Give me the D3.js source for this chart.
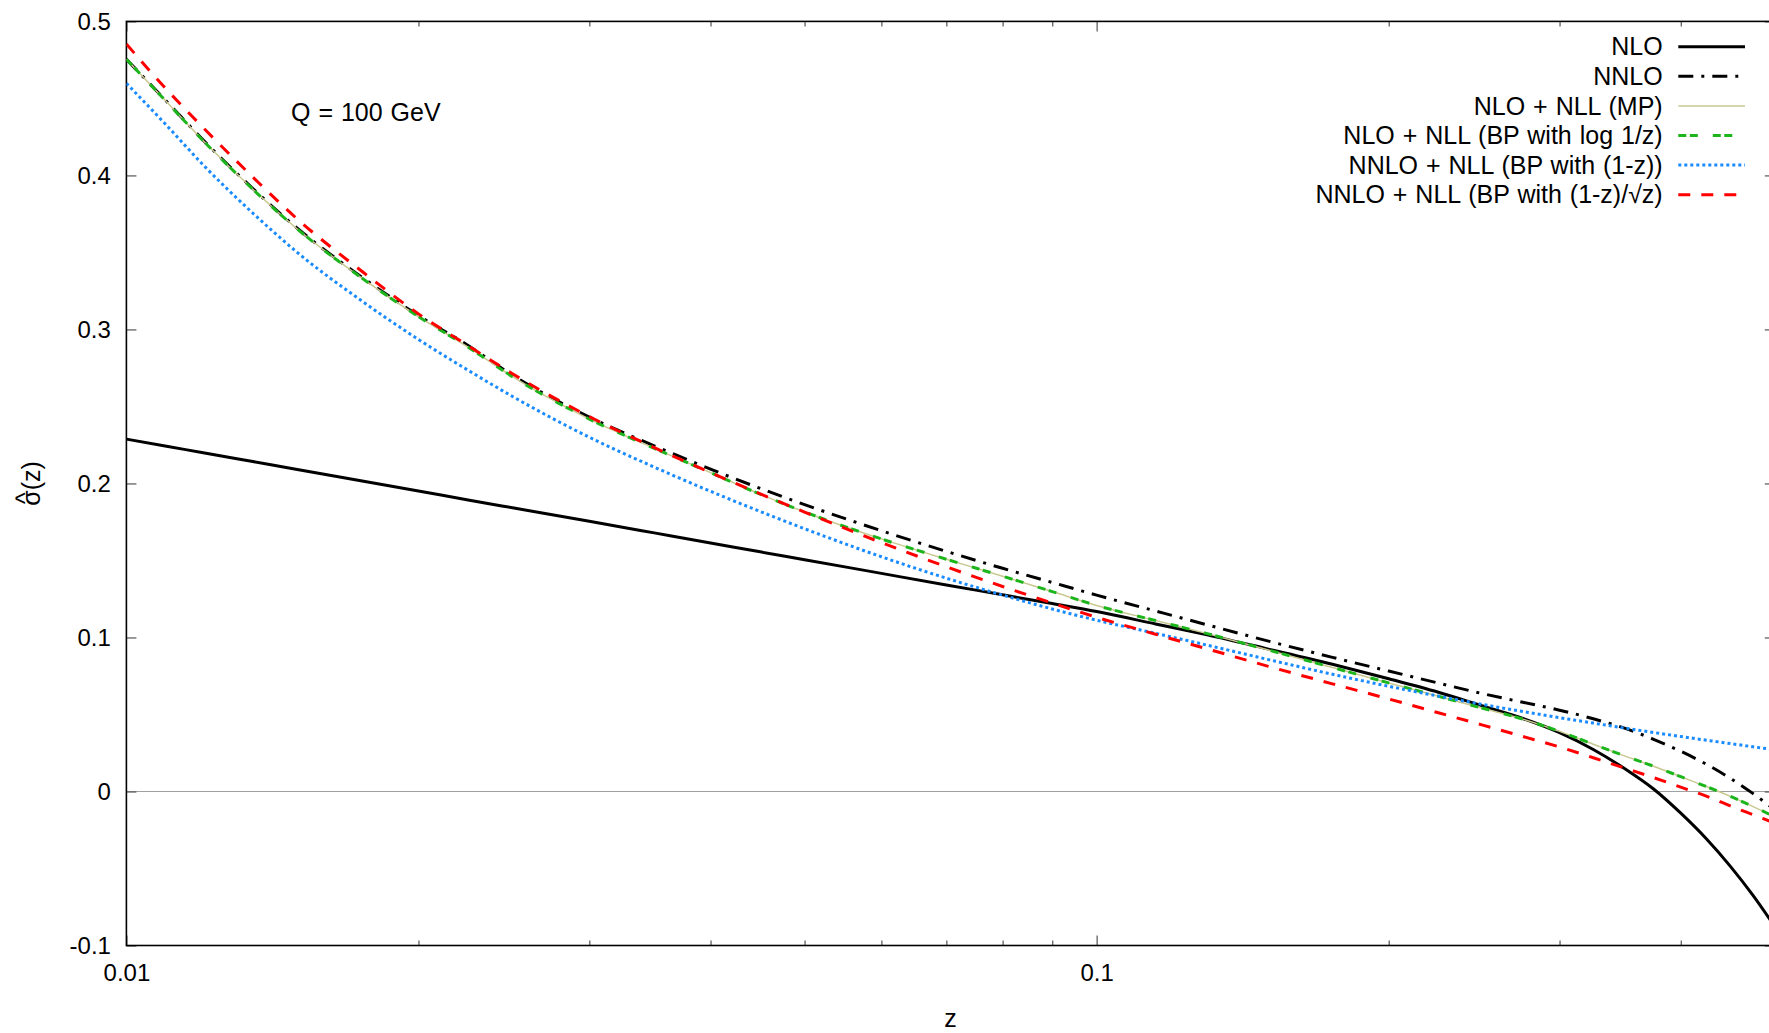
<!DOCTYPE html>
<html><head><meta charset="utf-8">
<script src="https://cdn.jsdelivr.net/npm/d3@7"></script>
<style>
html,body{margin:0;padding:0;background:#fff;overflow:hidden}
svg{display:block;font-family:"Liberation Sans",Arial,Helvetica,sans-serif}
</style></head><body>
<svg id="chart" width="1769" height="1033"></svg>
<script>
// ---- data ----
const zValues = [0.01,0.011,0.012,0.0135,0.015,0.0175,0.02,0.0225,0.025,0.03,0.035,0.04,0.045,0.05,0.06,0.07,0.08,0.09,0.1,0.115,0.13,0.15,0.175,0.2,0.225,0.25,0.275,0.3,0.325,0.35,0.375,0.4,0.425,0.45,0.475,0.5];
const nloValues = [0.2288,0.2242,0.2199,0.2142,0.2091,0.2016,0.1951,0.1893,0.1842,0.1754,0.1679,0.1614,0.1556,0.1505,0.1416,0.1341,0.1277,0.1220,0.1168,0.1088,0.1017,0.0926,0.0826,0.0732,0.0644,0.0555,0.0474,0.0382,0.0273,0.0149,0.0016,-0.0141,-0.0307,-0.0486,-0.0676,-0.0877];
const nnloValues = [0.4754,0.4481,0.4229,0.3915,0.3657,0.3338,0.3090,0.2896,0.2703,0.2431,0.2244,0.2093,0.1968,0.1863,0.1693,0.1559,0.1449,0.1357,0.1275,0.1172,0.1082,0.0978,0.0871,0.0782,0.0704,0.0635,0.0579,0.0528,0.0472,0.0411,0.0339,0.0261,0.0177,0.0085,-0.0014,-0.0119];
const nloNllMpValues = [0.4754,0.4478,0.4225,0.3910,0.3652,0.3332,0.3083,0.2885,0.2693,0.2418,0.2228,0.2070,0.1930,0.1815,0.1640,0.1508,0.1398,0.1298,0.1208,0.1110,0.1025,0.0920,0.0805,0.0705,0.0618,0.0540,0.0470,0.0390,0.0307,0.0231,0.0164,0.0096,0.0032,-0.0032,-0.0098,-0.0165];
const nloNllBpLogValues = [0.4754,0.4478,0.4225,0.3910,0.3652,0.3332,0.3083,0.2885,0.2693,0.2418,0.2228,0.2070,0.1930,0.1815,0.1640,0.1508,0.1398,0.1298,0.1208,0.1110,0.1025,0.0920,0.0805,0.0705,0.0618,0.0540,0.0470,0.0390,0.0307,0.0231,0.0164,0.0096,0.0032,-0.0032,-0.0098,-0.0165];
const nnloNllBp1zValues = [0.4598,0.4325,0.4068,0.3755,0.3500,0.3183,0.2935,0.2735,0.2565,0.2300,0.2106,0.1949,0.1818,0.1706,0.1524,0.1385,0.1275,0.1185,0.1112,0.1027,0.0950,0.0858,0.0761,0.0683,0.0619,0.0565,0.0519,0.0479,0.0444,0.0412,0.0383,0.0357,0.0333,0.0311,0.0290,0.0271];
const nnloNllBpSqrtValues = [0.4853,0.4558,0.4310,0.3989,0.3717,0.3376,0.3101,0.2895,0.2712,0.2434,0.2233,0.2071,0.1933,0.1814,0.1616,0.1459,0.1331,0.1223,0.1131,0.1021,0.0926,0.0814,0.0699,0.0601,0.0511,0.0431,0.0357,0.0289,0.0219,0.0152,0.0090,0.0028,-0.0030,-0.0094,-0.0151,-0.0205];

const seriesNames = ["NLO","NNLO","NLO + NLL (MP)","NLO + NLL (BP with log 1/z)","NNLO + NLL (BP with (1-z))","NNLO + NLL (BP with (1-z)/\u221Az)"];
const xMajorTicks = [0.01, 0.1];
const xTickLabels = ["0.01", "0.1"];
const xMinorTicks = [0.02,0.03,0.04,0.05,0.06,0.07,0.08,0.09,0.2,0.3,0.4,0.5];
const yTicks = [-0.1,0,0.1,0.2,0.3,0.4,0.5];
const yTickLabels = ["-0.1","0","0.1","0.2","0.3","0.4","0.5"];

// ---- layout ----
const W = 1769, H = 1033;
const m = {left:126.4, right:1774.8, top:21.4, bottom:945.5};
const FS = 24;      // tick labels
const FSL = 25;     // legend / annotation / axis titles
const WS = "1px";
const svg = d3.select("#chart");
const x = d3.scaleLog().domain([0.01,0.5]).range([m.left,m.right]);
const y = d3.scaleLinear().domain([-0.1,0.5]).range([m.bottom,m.top]);

svg.append("rect").attr("width",W).attr("height",H).attr("fill","#fff");

svg.append("defs").append("clipPath").attr("id","plotclip")
  .append("rect").attr("x",m.left).attr("y",m.top).attr("width",m.right-m.left).attr("height",m.bottom-m.top);

// zero line
svg.append("line").attr("x1",m.left).attr("x2",m.right).attr("y1",y(0)).attr("y2",y(0))
  .attr("stroke","#a0a0a0").attr("stroke-width",1.2);

// axes
function styleAxis(g){
  g.select(".domain").remove();
  g.selectAll(".tick line").attr("stroke","#555").attr("stroke-width",1.2);
  g.selectAll("text").attr("font-size",FS).attr("fill","#000")
    .attr("font-family","\"Liberation Sans\",Arial,Helvetica,sans-serif");
}
svg.append("g").attr("transform",`translate(0,${m.bottom})`)
  .call(d3.axisBottom(x).tickValues(xMajorTicks).tickSize(-10).tickPadding(18).tickFormat((d,i)=>xTickLabels[i]))
  .call(styleAxis);
svg.append("g").attr("transform",`translate(0,${m.bottom})`)
  .call(d3.axisBottom(x).tickValues(xMinorTicks).tickSize(-5).tickFormat(""))
  .call(styleAxis);
svg.append("g").attr("transform",`translate(0,${m.top})`)
  .call(d3.axisTop(x).tickValues(xMajorTicks).tickSize(-10).tickFormat(""))
  .call(styleAxis);
svg.append("g").attr("transform",`translate(0,${m.top})`)
  .call(d3.axisTop(x).tickValues(xMinorTicks).tickSize(-5).tickFormat(""))
  .call(styleAxis);
svg.append("g").attr("transform",`translate(${m.left},0)`)
  .call(d3.axisLeft(y).tickValues(yTicks).tickSize(-10).tickPadding(15.5).tickFormat((d,i)=>yTickLabels[i]))
  .call(styleAxis);
svg.append("g").attr("transform",`translate(${m.right},0)`)
  .call(d3.axisRight(y).tickValues(yTicks).tickSize(-10).tickFormat(""))
  .call(styleAxis);

// border
svg.append("rect").attr("x",m.left).attr("y",m.top).attr("width",m.right-m.left).attr("height",m.bottom-m.top)
  .attr("fill","none").attr("stroke","#000").attr("stroke-width",1.6);

// series
const styles = [
  {values:nloValues, color:"#000000", width:3, dash:null},
  {values:nnloValues, color:"#000000", width:3, dash:"15,8,3,8"},
  {values:nloNllMpValues, color:"#c8c890", width:1.5, dash:null},
  {values:nloNllBpLogValues, color:"#1cb51c", width:3, dash:"8,3.5,8,15"},
  {values:nnloNllBp1zValues, color:"#1a8cff", width:3, dash:"3,3"},
  {values:nnloNllBpSqrtValues, color:"#ff0000", width:3, dash:"12,11"}
];
const line = d3.line().x(d=>x(d[0])).y(d=>y(d[1])).curve(d3.curveMonotoneX);
const plotG = svg.append("g").attr("clip-path","url(#plotclip)");
styles.forEach(s=>{
  const pts = zValues.map((z,i)=>[z,s.values[i]]);
  plotG.append("path").datum(pts).attr("d",line).attr("fill","none")
    .attr("stroke",s.color).attr("stroke-width",s.width)
    .attr("stroke-dasharray",s.dash).attr("stroke-linejoin","round");
});

// legend
const lg = svg.append("g");
styles.forEach((s,i)=>{
  const yy = 46.7 + i*29.6;
  lg.append("text").attr("x",1662.7).attr("y",yy).attr("dy","0.35em").attr("text-anchor","end")
    .attr("font-size",FSL).attr("word-spacing",WS).attr("fill","#000").text(seriesNames[i]);
  lg.append("line").attr("x1",1678.3).attr("x2",1745).attr("y1",yy).attr("y2",yy)
    .attr("stroke",s.color).attr("stroke-width",s.width).attr("stroke-dasharray",s.dash);
});

// annotation
svg.append("text").attr("x",291).attr("y",112.7).attr("dy","0.35em").attr("font-size",FSL)
  .attr("word-spacing",WS).attr("fill","#000").text("Q = 100 GeV");

// axis labels
svg.append("text").attr("x",(m.left+m.right)/2).attr("y",1027).attr("text-anchor","middle")
  .attr("font-size",FSL).attr("fill","#000").text("z");
const yl = svg.append("g").attr("transform",`translate(31,${(m.top+m.bottom)/2}) rotate(-90)`);
const yt = yl.append("text").attr("font-size",FSL).attr("dy","0.35em").attr("fill","#000").text("\u03C3(z)");
const L = yt.node().getComputedTextLength();
yt.attr("x",-L/2);
const tmp = yl.append("text").attr("font-size",FSL).text("\u03C3");
const ws = tmp.node().getComputedTextLength();
tmp.remove();
yl.append("text").attr("font-size",FSL).attr("x",-L/2+ws/2).attr("dy","0.1em")
  .attr("text-anchor","middle").attr("fill","#000").text("^");
</script>
</body></html>
